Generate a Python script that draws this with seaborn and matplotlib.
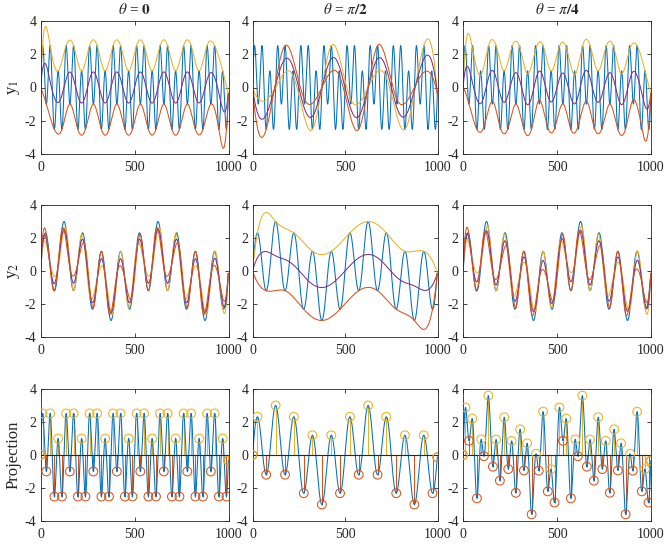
## Bivariate envelopes for three projection directions
## 3x3 grid: y1 channel, y2 channel, projection with extrema

import numpy as np
import pandas as pd
import matplotlib
matplotlib.use("Agg")
import matplotlib.pyplot as plt
import seaborn as sns

##########################################################################
## 1. Data (signal parameters)
##########################################################################

n_samples = 1000
## y1 = low + high component, y2 likewise (cycles per 1000 samples)
y1_freqs = [8, 24]
y1_amps = [1.0, 2.0]
y2_freqs = [2, 10]
y2_amps = [1.0, 2.0]

thetas = [0.0, np.pi / 2, np.pi / 4]
theta_titles = [r"$\theta$ = $\mathbf{0}$",
                r"$\theta$ = $\pi\mathbf{/2}$",
                r"$\theta$ = $\pi\mathbf{/4}$"]
row_labels = [r"y$_1$", r"y$_2$", "Projection"]
x_ticks = [0, 500, 1000]
y_ticks = [-4, -2, 0, 2, 4]

c_blue = "#0072BD"
c_red = "#D95319"
c_yellow = "#EDB120"
c_purple = "#7E2F8E"

t = np.arange(n_samples)
y1 = sum(a * np.sin(2 * np.pi * f * t / n_samples) for f, a in zip(y1_freqs, y1_amps))
y2 = sum(a * np.sin(2 * np.pi * f * t / n_samples) for f, a in zip(y2_freqs, y2_amps))

##########################################################################
## 2. Helpers: extrema + not-a-knot cubic spline (like MATLAB spline)
##########################################################################

def find_extrema(p):
    d = np.diff(p)
    imax = np.where((d[:-1] > 0) & (d[1:] <= 0))[0] + 1
    imin = np.where((d[:-1] < 0) & (d[1:] >= 0))[0] + 1
    ends = [0, len(p) - 1]
    imax = np.unique(np.concatenate([ends, imax]))
    imin = np.unique(np.concatenate([ends, imin]))
    return imax, imin


def spline_nak(xk, yk, xq):
    xk = np.asarray(xk, float)
    yk = np.asarray(yk, float)
    n = len(xk)
    h = np.diff(xk)
    A = np.zeros((n, n))
    b = np.zeros(n)
    for i in range(1, n - 1):
        A[i, i - 1] = h[i - 1]
        A[i, i] = 2 * (h[i - 1] + h[i])
        A[i, i + 1] = h[i]
        b[i] = 6 * ((yk[i + 1] - yk[i]) / h[i] - (yk[i] - yk[i - 1]) / h[i - 1])
    A[0, 0], A[0, 1], A[0, 2] = h[1], -(h[0] + h[1]), h[0]
    A[-1, -3], A[-1, -2], A[-1, -1] = h[-1], -(h[-2] + h[-1]), h[-2]
    M = np.linalg.solve(A, b)
    idx = np.clip(np.searchsorted(xk, xq, side="right") - 1, 0, n - 2)
    x0, x1 = xk[idx], xk[idx + 1]
    hh = x1 - x0
    return (M[idx] * (x1 - xq) ** 3 / (6 * hh) + M[idx + 1] * (xq - x0) ** 3 / (6 * hh)
            + (yk[idx] / hh - M[idx] * hh / 6) * (x1 - xq)
            + (yk[idx + 1] / hh - M[idx + 1] * hh / 6) * (xq - x0))

##########################################################################
## 3. Plot
##########################################################################

sns.set_style("ticks")
plt.rcParams["font.family"] = ["Liberation Serif", "DejaVu Serif"]
plt.rcParams["mathtext.fontset"] = "stix"
plt.rcParams["axes.unicode_minus"] = False
plt.rcParams["xtick.direction"] = "in"
plt.rcParams["ytick.direction"] = "in"

W, H = 672, 549
fig = plt.figure(figsize=(W / 100, H / 100), dpi=100)

col_left = [40.5, 252.5, 463]
col_width = [188, 185, 188]
row_top = [21, 205, 389]
row_height = [133, 132, 132]

lw = 0.75
for c, theta in enumerate(thetas):
    proj = y1 * np.cos(theta) + y2 * np.sin(theta)
    imax, imin = find_extrema(proj)
    env = {}
    for name, sig in (("y1", y1), ("y2", y2)):
        emax = spline_nak(t[imax], sig[imax], t)
        emin = spline_nak(t[imin], sig[imin], t)
        env[name] = (emax, emin, (emax + emin) / 2)

    for r in range(3):
        ax = fig.add_axes([col_left[c] / W, 1 - (row_top[r] + row_height[r]) / H,
                           col_width[c] / W, row_height[r] / H])
        if r < 2:
            sig = y1 if r == 0 else y2
            emax, emin, emean = env["y1" if r == 0 else "y2"]
            df = pd.DataFrame({"t": t, "sig": sig, "emax": emax, "emin": emin, "emean": emean})
            sns.lineplot(data=df, x="t", y="sig", ax=ax, color=c_blue, lw=lw)
            sns.lineplot(data=df, x="t", y="emax", ax=ax, color=c_yellow, lw=lw)
            sns.lineplot(data=df, x="t", y="emean", ax=ax, color=c_purple, lw=lw)
            sns.lineplot(data=df, x="t", y="emin", ax=ax, color=c_red, lw=lw)
        else:
            ax.vlines(t[imin], 0, proj[imin], color=c_red, lw=lw)
            ax.vlines(t[imax], 0, proj[imax], color=c_yellow, lw=lw)
            sns.lineplot(x=t, y=proj, ax=ax, color=c_blue, lw=lw)
            ax.axhline(0, color="#262626", lw=0.8)
            sns.scatterplot(x=t[imin], y=proj[imin], ax=ax, marker="o", s=40,
                            facecolor="none", edgecolor=c_red, linewidth=0.75, zorder=4)
            sns.scatterplot(x=t[imax], y=proj[imax], ax=ax, marker="o", s=40,
                            facecolor="none", edgecolor=c_yellow, linewidth=0.75, zorder=5)

        ax.set_xlim(0, 1000)
        ax.set_ylim(-4, 4)
        ax.set_xticks(x_ticks)
        ax.set_yticks(y_ticks)
        ax.set_xlabel("")
        ax.set_ylabel("")
        ax.tick_params(axis="both", labelsize=10, length=3, width=0.6,
                       colors="#262626", top=True, right=True)
        ax.tick_params(axis="x", pad=5)
        ax.tick_params(axis="y", pad=3)
        for spine in ax.spines.values():
            spine.set_visible(True)
            spine.set_linewidth(0.6)
            spine.set_color("#262626")
        if r == 0:
            ax.set_title(theta_titles[c], fontsize=11, pad=5)
        if c == 0:
            ax.set_ylabel(row_labels[r], fontsize=12, labelpad=2)

fig.savefig("out.png", dpi=100)
plt.close(fig)
